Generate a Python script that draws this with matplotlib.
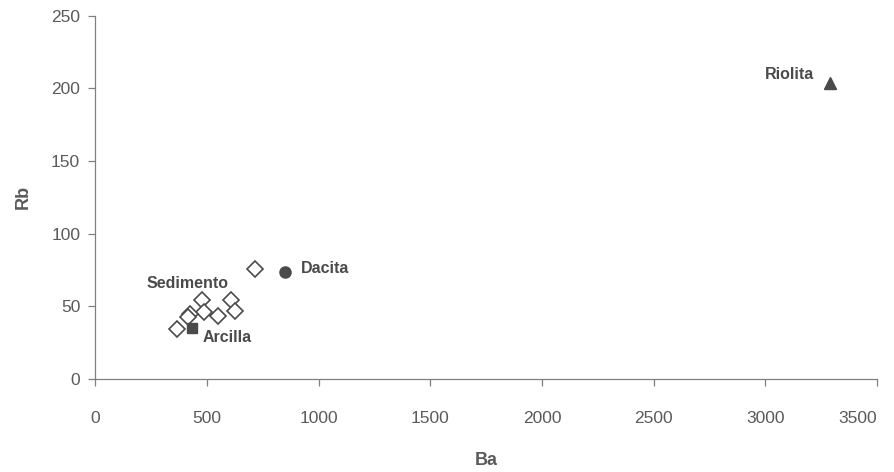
import matplotlib
matplotlib.use("Agg")
import matplotlib.pyplot as plt

plt.rcParams['font.family'] = ['Liberation Sans', 'DejaVu Sans']

# sediment samples (open diamonds)
sed_ba = [714, 478, 607, 625, 487, 547, 423, 413, 363]
sed_rb = [75.4, 54.4, 54.4, 46.8, 46.3, 43.3, 44.7, 42.4, 34.2]

# reference rocks
arcilla_ba, arcilla_rb = [431], [34.9]
dacita_ba, dacita_rb = [849], [73.4]
riolita_ba, riolita_rb = [3289], [203.5]

x_ticks = [0, 500, 1000, 1500, 2000, 2500, 3000, 3500]
y_ticks = [0, 50, 100, 150, 200, 250]

gray = '#4a4a4a'
axc = '#808080'
txt = '#5a5a5a'

fig = plt.figure(figsize=(8.95, 4.72), dpi=100)
ax = fig.add_axes([0.1067, 0.197, 0.8732, 0.7697])

ax.plot(sed_ba, sed_rb, linestyle='none', marker='D', markersize=8.5,
        markerfacecolor='white', markeredgecolor=gray, markeredgewidth=1.2)
ax.plot(arcilla_ba, arcilla_rb, linestyle='none', marker='s', markersize=7.5,
        color=gray)
ax.plot(dacita_ba, dacita_rb, linestyle='none', marker='o', markersize=8,
        color=gray)
ax.plot(riolita_ba, riolita_rb, linestyle='none', marker='^', markersize=8.5,
        color=gray)

lab = dict(textcoords='offset points', fontsize=11.5, fontweight='bold',
           color=gray, va='center')
ax.annotate('Dacita', (dacita_ba[0], dacita_rb[0]), xytext=(11.5, 3), ha='left', **lab)
ax.annotate('Riolita', (riolita_ba[0], riolita_rb[0]), xytext=(-11, 6.5), ha='right', **lab)
ax.annotate('Arcilla', (arcilla_ba[0], arcilla_rb[0]), xytext=(8, -6.5), ha='left', **lab)
ax.annotate('Sedimento', (sed_ba[1], sed_rb[1]), xytext=(19, 11.5), ha='right', **lab)

ax.set_xlim(0, 3500)
ax.set_ylim(0, 250)
ax.set_xticks(x_ticks)
ax.set_yticks(y_ticks)

for s in ['top', 'right']:
    ax.spines[s].set_visible(False)
for s in ['left', 'bottom']:
    ax.spines[s].set_color(axc)
    ax.spines[s].set_linewidth(0.9)

ax.tick_params(axis='both', colors=axc, labelcolor=txt, labelsize=12.5,
               length=5, width=0.9)
ax.tick_params(axis='x', pad=18)
ax.tick_params(axis='y', pad=6)

# keep the last x label inside the figure, as in the original
ax.get_xticklabels()[-1].set_horizontalalignment('right')

ax.set_xlabel('Ba', fontsize=13, fontweight='bold', color=txt, labelpad=19)
ax.set_ylabel('Rb', fontsize=13, fontweight='bold', color=txt, labelpad=14)

fig.savefig('out.png', dpi=100)
